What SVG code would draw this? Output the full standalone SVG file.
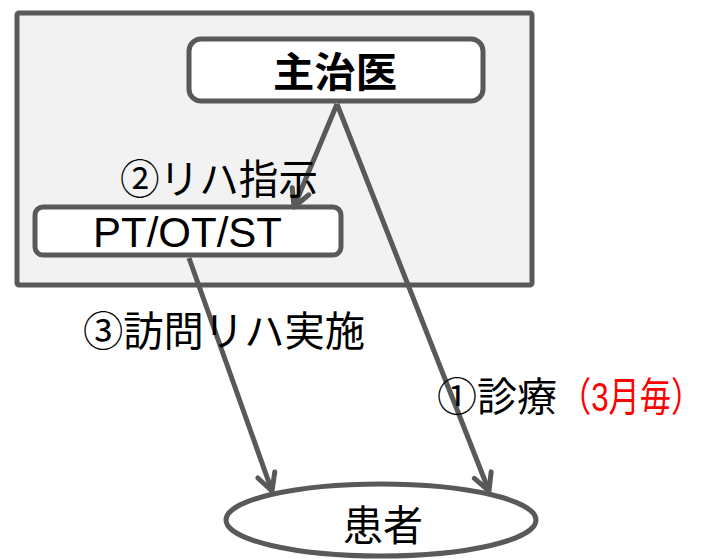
<svg xmlns="http://www.w3.org/2000/svg" width="711" height="559" viewBox="0 0 711 559">
<style>
.box{fill:#ffffff;stroke:#595959;stroke-width:5}
.t{font-family:"Liberation Sans","Noto Sans CJK JP",sans-serif;fill:#000}
.c{stroke:#595959;stroke-width:5;fill:none;marker-end:url(#ah)}
</style>
<defs>
<marker id="ah" viewBox="-20 -12 24 24" markerWidth="24" markerHeight="24" refX="0" refY="0" orient="auto" markerUnits="userSpaceOnUse">
<path d="M-17,-9 L0,0 L-17,9" fill="none" stroke="#595959" stroke-width="5" stroke-linecap="round" stroke-linejoin="round"/>
</marker>
</defs>
<rect id="org" x="17" y="13" width="515" height="272" rx="2" fill="#f2f2f2" stroke="#595959" stroke-width="5"/>
<g id="doctor">
<rect class="box" x="189" y="39" width="294" height="62" rx="12"/>
<text class="t" x="335" y="87" font-size="41" font-weight="bold" text-anchor="middle" textLength="124" lengthAdjust="spacingAndGlyphs">主治医</text>
</g>
<g id="therapist">
<rect class="box" x="35" y="207" width="306" height="48" rx="8"/>
<text class="t" x="93" y="247" font-size="43" textLength="189" lengthAdjust="spacingAndGlyphs">PT/OT/ST</text>
</g>
<g id="patient">
<ellipse class="box" cx="381" cy="520" rx="155" ry="36"/>
<text class="t" x="383" y="541" font-size="42" text-anchor="middle" textLength="80" lengthAdjust="spacingAndGlyphs">患者</text>
</g>
<g id="connectors">
<path class="c" d="M337,104 L294,207"/>
<path class="c" d="M337,104 L489,491"/>
<path class="c" d="M189,258 L272,491"/>
</g>
<g id="labels">
<text class="t" x="120" y="194" font-size="41" textLength="198" lengthAdjust="spacingAndGlyphs">②リハ指示</text>
<text class="t" x="83" y="346" font-size="41" textLength="282" lengthAdjust="spacingAndGlyphs">③訪問リハ実施</text>
<text class="t" x="437" y="411" font-size="40" textLength="120" lengthAdjust="spacingAndGlyphs">①診療</text>
<text class="t" transform="translate(560,411) scale(0.78,1)" x="0" y="0" font-size="40" style="fill:#ff0000">（3月毎）</text>
</g>
</svg>
